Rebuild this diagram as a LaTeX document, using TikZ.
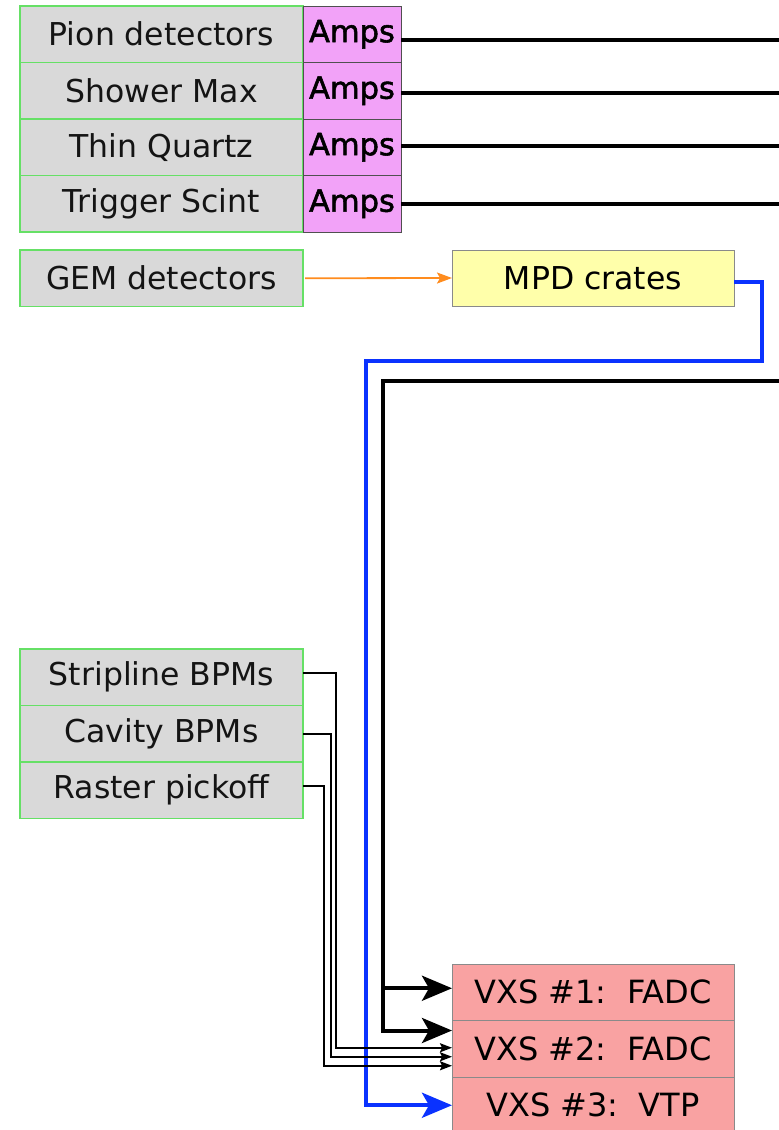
\documentclass[tikz,border=0pt]{standalone}
\usepackage{fontspec}
\setmainfont{DejaVu Sans}
\newfontfamily\heavyfont{DejaVu Sans}[FakeBold=1.8]
\definecolor{detFill}{HTML}{D9D9D9}
\definecolor{detEdge}{HTML}{66E066}
\definecolor{ampFill}{HTML}{F2A2F8}
\definecolor{ampEdge}{HTML}{505050}
\definecolor{crateFill}{HTML}{FFFFAA}
\definecolor{vxsFill}{HTML}{F9A2A2}
\definecolor{boxEdge}{HTML}{8A8A8A}
\definecolor{busBlue}{HTML}{0A32FF}
\definecolor{gemOrange}{HTML}{FF8C1E}
\definecolor{inkText}{HTML}{141414}
\usetikzlibrary{arrows.meta, positioning, calc}

\begin{document}
\begin{tikzpicture}[
    x=1pt, y=-1pt,
    det/.style={
      draw=detEdge,
      fill=detFill,
      text=inkText,
      minimum width=283pt,
      minimum height=56.5pt,
      inner sep=0pt,
      outer sep=0pt,
      line width=1.2pt,
      font=\fontsize{31.5}{36}\selectfont,
    },
    amp/.style={
      draw=ampEdge,
      fill=ampFill,
      text=black,
      minimum width=98pt,
      minimum height=56.5pt,
      inner sep=0pt,
      outer sep=0pt,
      line width=1pt,
      font=\heavyfont\fontsize{30.5}{36}\selectfont,
    },
    crate/.style={
      draw=boxEdge,
      fill=crateFill,
      text=black,
      minimum width=282pt,
      minimum height=56pt,
      inner sep=0pt,
      outer sep=0pt,
      line width=1pt,
      font=\fontsize{31.5}{36}\selectfont,
    },
    vxs/.style={crate, fill=vxsFill, minimum height=56.5pt, font=\fontsize{32}{36}\selectfont},
    sig/.style={line width=3.8pt, black},
    feed/.style={-{Stealth[length=30pt, width=25pt, inset=7pt]}, line width=4pt, black},
    bus/.style={-{Stealth[length=30pt, width=25pt, inset=7pt]}, line width=4pt, busBlue},
    bpm/.style={-{Stealth[length=12pt, width=9pt, inset=2pt]}, line width=1.8pt, black},
    gemline/.style={-{Stealth[length=15pt, width=11pt, inset=3pt]}, line width=1.8pt, gemOrange},
  ]
    \useasboundingbox (0,0) rectangle (779,1130);
    \coordinate (rim) at (785,0);

    \node[det, anchor=north west] (pion) at (20,6) {Pion detectors};
    \node[det, below=0pt of pion] (shower) {Shower Max};
    \node[det, below=0pt of shower] (quartz) {Thin Quartz};
    \node[det, below=0pt of quartz] (scint) {Trigger Scint};

    \node[amp, right=0pt of pion] (amp1) {Amps};
    \node[amp, right=0pt of shower] (amp2) {Amps};
    \node[amp, right=0pt of quartz] (amp3) {Amps};
    \node[amp, right=0pt of scint] (amp4) {Amps};

    \foreach \a/\dy in {amp1/6, amp2/2, amp3/-1, amp4/0}
      \draw[sig] ($(\a.east)+(0,\dy)$) -- ($(\a.east -| rim)+(0,\dy)$);

    \node[det, anchor=north west] (gem) at (20,250) {GEM detectors};
    \node[crate, anchor=north west] (mpd) at (452,250) {MPD crates};
    \draw[gemline] ($(gem.east)+(2,0)$) -- (mpd.west);

    \node[det, anchor=north west] (strip) at (20,649) {Stripline BPMs};
    \node[det, below=0pt of strip] (cavity) {Cavity BPMs};
    \node[det, below=0pt of cavity] (raster) {Raster pickoff};

    \node[vxs, anchor=north west] (vxs1) at (452,964) {VXS \#1:\ \ FADC};
    \node[vxs, below=0pt of vxs1] (vxs2) {VXS \#2:\ \ FADC};
    \node[vxs, below=0pt of vxs2] (vxs3) {VXS \#3:\ \ VTP};

    % fibre feed coming in from the right
    \coordinate (feed) at (785,381);
    \draw[feed] (feed) -| ($(vxs1.west)+(-69,-4)$) -- ($(vxs1.west)+(0,-4)$);
    \draw[feed] (feed) -| ($(vxs2.north west)+(-69,10)$) -- ($(vxs2.north west)+(0,10)$);

    % MPD readout to the VTP
    \coordinate (turn) at (762,361);
    \draw[bus] ($(mpd.east)+(0,4)$) -| (turn) -| ($(vxs3.west)+(-86,0)$) -- (vxs3.west);

    \draw[bpm] ($(strip.east)+(0,-4)$) -- ++(33,0) |- ($(vxs2.west)+(0,-1)$);
    \draw[bpm] (cavity.east) -- ++(28,0) |- ($(vxs2.west)+(0,8)$);
    \draw[bpm] ($(raster.east)+(0,-4)$) -- ++(21,0) |- ($(vxs2.west)+(0,17)$);
  \end{tikzpicture}
\end{document}
